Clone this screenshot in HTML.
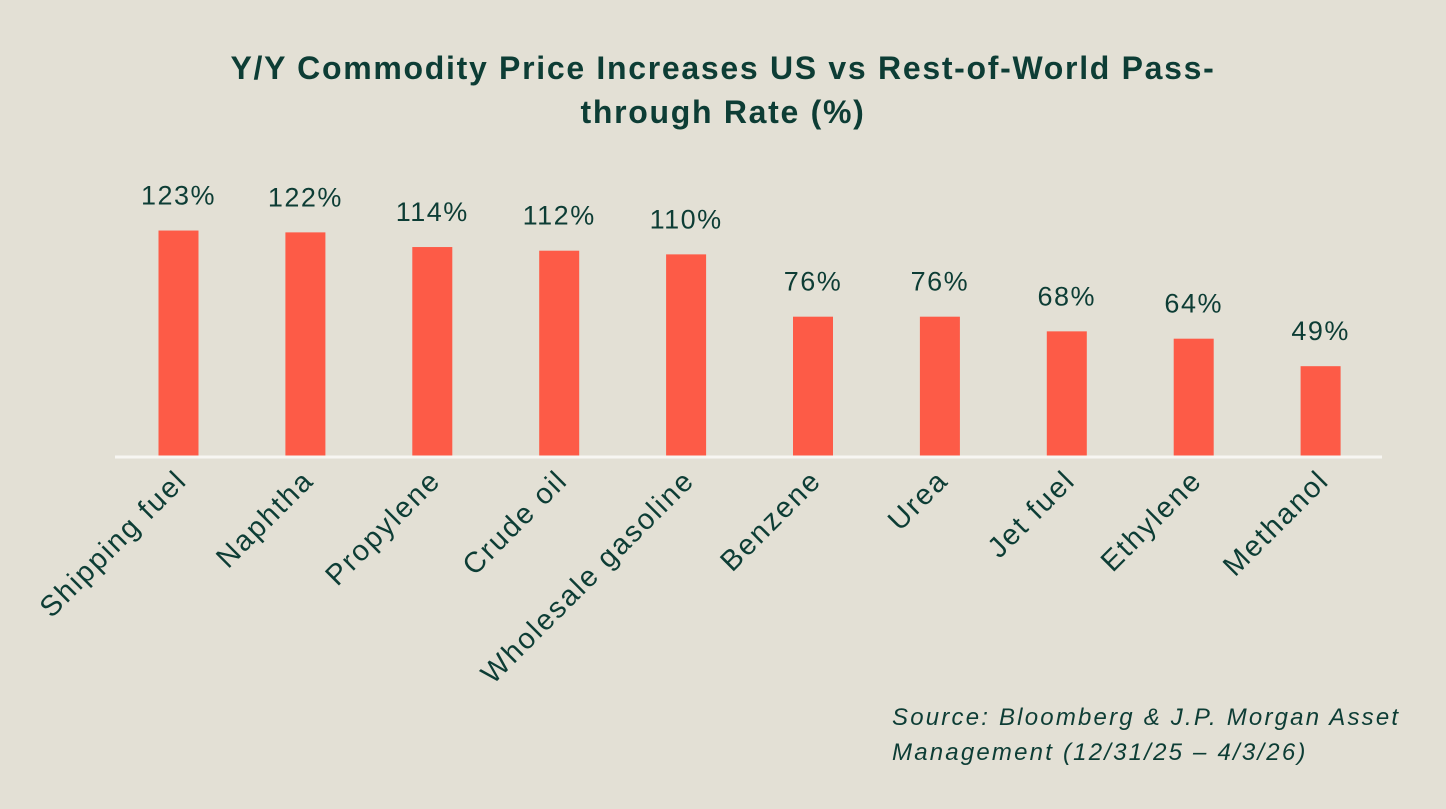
<!DOCTYPE html>
<html><head><meta charset="utf-8"><style>
body{margin:0;width:1446px;height:809px;background:#e3e0d5;overflow:hidden;font-family:"Liberation Sans",sans-serif;color:#0d3d35}
#title{position:absolute;left:0;width:1446px;top:46px;text-align:center;font-weight:bold;font-size:32px;letter-spacing:1.7px;line-height:44px}
#src{position:absolute;left:892px;top:700px;font-style:italic;font-size:24px;letter-spacing:2.2px;line-height:35px}
</style></head><body>
<div id="title">Y/Y Commodity Price Increases US vs Rest-of-World Pass-<br>through Rate (%)</div>
<svg id="chart" width="1446" height="809" style="position:absolute;left:0;top:0"></svg>
<div id="src">Source: Bloomberg &amp; J.P. Morgan Asset<br>Management (12/31/25 – 4/3/26)</div>
<script>
const categories=["Shipping fuel","Naphtha","Propylene","Crude oil","Wholesale gasoline","Benzene","Urea","Jet fuel","Ethylene","Methanol"];
const values=[123,122,114,112,110,76,76,68,64,49];
const valueLabels=["123%","122%","114%","112%","110%","76%","76%","68%","64%","49%"];
const NS="http://www.w3.org/2000/svg";
const svg=document.getElementById('chart');
const base=456, scale=1.833, x0=158.5, step=126.9, bw=40;
const xPos=i=>x0+i*step;
const yPos=v=>base-v*scale;
function mk(t,a){const e=document.createElementNS(NS,t);for(const k in a)e.setAttribute(k,a[k]);svg.appendChild(e);return e;}
categories.forEach((c,i)=>{
  const r=mk('rect',{x:xPos(i),y:yPos(values[i]),width:bw,height:values[i]*scale,fill:'#fd5b47'});
  
  
  const t=mk('text',{x:xPos(i)+bw/2,y:yPos(values[i])-26,'text-anchor':'middle','font-size':27,'letter-spacing':1.5,fill:'#0d3d35'});
  t.textContent=valueLabels[i];
  
  
  const cx=xPos(i)+bw/2+10, cy=482;
  const l=mk('text',{x:cx,y:cy,'text-anchor':'end','font-size':29,'letter-spacing':2,fill:'#0d3d35',transform:`rotate(-45 ${cx} ${cy})`});
  l.textContent=c;
  
  
});
const ax=mk('line',{x1:115,x2:1382,y1:base+1,y2:base+1,stroke:'#f7f6f2','stroke-width':3});


</script>
</body></html>
